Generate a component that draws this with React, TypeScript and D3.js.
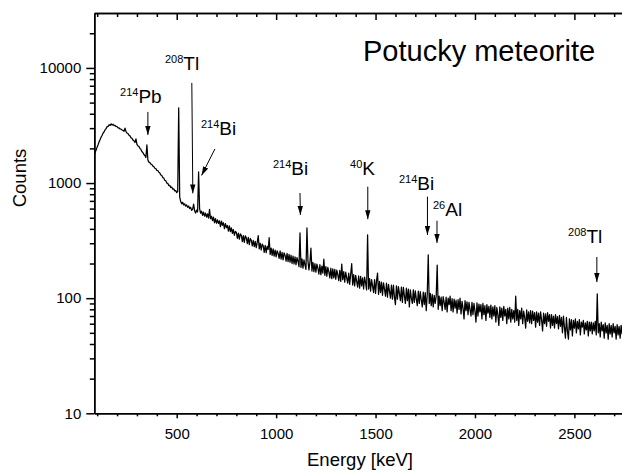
import React, { useEffect, useRef } from 'react';
import * as d3 from 'd3';

// spectrum: counts per 5 keV step, starting at 85 keV
const energyStart = 85;
const energyStep = 5;
const counts = [
  1750, 1860, 1940, 2060, 2160, 2290, 2390, 2510, 2600, 2720, 2790, 2910, 2970, 3090, 3110, 3210, 3170, 3270, 3190, 3240,
  3160, 3170, 3100, 3090, 3020, 3010, 2950, 2940, 2890, 2870, 2820, 3000, 2800, 2720, 2690, 2600, 2570, 2470, 2450, 2360,
  2330, 2250, 2420, 2170, 2100, 2080, 2000, 1960, 1880, 1840, 1770, 1735, 1665, 2150, 1585, 1520, 1505, 1462, 1448, 1402,
  1390, 1345, 1335, 1290, 1285, 1240, 1225, 1175, 1165, 1115, 1105, 1055, 1050, 1000, 995, 950, 955, 915, 925, 885,
  890, 855, 860, 826, 845, 4500, 760, 690, 660, 680, 645, 660, 630, 645, 615, 632, 600, 615, 580, 592,
  655, 575, 548, 582, 560, 1250, 600, 548, 570, 525, 560, 515, 548, 505, 540, 495, 590, 490, 515, 472,
  505, 452, 490, 448, 478, 446, 470, 418, 468, 430, 452, 402, 445, 410, 428, 382, 425, 378, 408, 365,
  395, 352, 380, 372, 330, 368, 325, 362, 352, 310, 350, 305, 348, 335, 298, 338, 292, 330, 318, 285,
  318, 280, 312, 275, 305, 350, 268, 300, 262, 295, 285, 250, 288, 248, 282, 265, 335, 240, 272, 235,
  268, 232, 262, 228, 258, 245, 222, 258, 218, 250, 215, 248, 235, 210, 245, 208, 240, 205, 236, 200,
  232, 198, 228, 195, 225, 210, 188, 369, 185, 220, 182, 215, 195, 178, 407, 210, 176, 205, 272, 172,
  205, 170, 200, 168, 198, 182, 162, 196, 160, 190, 165, 218, 158, 188, 155, 185, 170, 150, 182, 148,
  180, 150, 178, 146, 175, 160, 142, 174, 140, 198, 145, 170, 138, 168, 150, 135, 165, 132, 162, 200,
  130, 160, 128, 158, 140, 125, 156, 122, 155, 128, 150, 120, 152, 135, 118, 355, 120, 148, 115, 145,
  128, 112, 145, 110, 142, 165, 108, 140, 112, 138, 106, 136, 120, 104, 135, 102, 132, 115, 100, 130,
  98, 130, 102, 88, 128, 98, 126, 110, 95, 125, 92, 124, 105, 90, 122, 95, 120, 84, 118, 100,
  90, 118, 92, 116, 98, 86, 115, 90, 114, 96, 84, 113, 88, 112, 78, 108, 238, 90, 110, 86,
  108, 84, 106, 90, 104, 194, 80, 104, 86, 102, 78, 103, 92, 80, 102, 76, 100, 88, 104, 78,
  99, 76, 98, 82, 96, 74, 97, 80, 100, 73, 94, 82, 66, 95, 78, 93, 72, 92, 80, 70,
  92, 72, 90, 77, 62, 91, 70, 89, 76, 88, 66, 90, 72, 86, 64, 88, 74, 85, 68, 87,
  66, 84, 70, 86, 62, 83, 72, 58, 84, 68, 82, 64, 85, 70, 80, 60, 82, 66, 83, 62,
  80, 66, 78, 62, 104, 64, 80, 58, 78, 66, 82, 60, 77, 68, 55, 79, 63, 76, 61, 78,
  60, 77, 64, 75, 56, 76, 62, 74, 58, 76, 65, 52, 74, 60, 73, 57, 75, 63, 72, 55,
  72, 58, 70, 55, 72, 60, 69, 54, 71, 57, 68, 50, 70, 56, 45, 68, 52, 44, 66, 53,
  65, 47, 64, 55, 66, 50, 63, 54, 65, 48, 62, 56, 64, 49, 61, 53, 63, 47, 62, 52,
  62, 49, 61, 52, 63, 48, 109, 50, 60, 46, 62, 52, 59, 45, 61, 50, 58, 44, 60, 49,
  58, 46, 60, 50, 57, 44, 59, 48, 57, 45, 58, 49, 55,
];

const yMajorTicks = [10, 100, 1000, 10000];
const yMinorTicks = [20, 30, 40, 50, 60, 70, 80, 90, 200, 300, 400, 500, 600, 700, 800, 900,
  2000, 3000, 4000, 5000, 6000, 7000, 8000, 9000, 20000];
const xMajorTicks = [500, 1000, 1500, 2000, 2500];
const xMinorTicks = [100, 200, 300, 400, 600, 700, 800, 900, 1100, 1200, 1300, 1400, 1600, 1700,
  1800, 1900, 2100, 2200, 2300, 2400, 2600, 2700, 2800];

// peak labels (energy/counts of label start) and their arrows
const peaks = [
  { mass: '214', el: 'Pb', labelE: 215, labelC: 4970, fromE: 355, fromC: 4150, toE: 355, toC: 2620 },
  { mass: '208', el: 'Tl', labelE: 441, labelC: 9610, fromE: 576, fromC: 7410, toE: 581, toC: 813 },
  { mass: '214', el: 'Bi', labelE: 622, labelC: 2618, fromE: 692, fromC: 1978, toE: 625, toC: 1164 },
  { mass: '214', el: 'Bi', labelE: 984, labelC: 1175, fromE: 1120, fromC: 820, toE: 1122, toC: 528 },
  { mass: '40', el: 'K', labelE: 1372, labelC: 1175, fromE: 1461, fromC: 930, toE: 1461, toC: 485 },
  { mass: '214', el: 'Bi', labelE: 1618, labelC: 871, fromE: 1761, fromC: 762, toE: 1761, toC: 354 },
  { mass: '26', el: 'Al', labelE: 1789, labelC: 518, fromE: 1809, fromC: 471, toE: 1809, toC: 302 },
  { mass: '208', el: 'Tl', labelE: 2468, labelC: 302, fromE: 2613, fromC: 228, toE: 2613, toC: 138 },
];

const width = 622;
const height = 472;
const left = 94.3;
const top = 13;
const bottom = 413.3;
const font = "'Liberation Sans', Arial, sans-serif";

const x = d3.scaleLinear().domain([85.5, 2830]).range([left, 640]);
const y = d3.scaleLog().domain([10, 30000]).range([bottom, top]);

const App = () => {
  const axesRef = useRef<SVGGElement>(null);

  useEffect(() => {
    const g = d3.select(axesRef.current);
    g.selectAll('*').remove();

    const style = (sel: any) => {
      sel.attr('font-family', font).attr('font-size', 15).attr('color', '#000');
      sel.selectAll('path, line').attr('stroke-width', 1.5);
    };

    g.append('g')
      .attr('transform', `translate(${left},0)`)
      .call(d3.axisLeft(y).tickValues(yMinorTicks).tickSize(4.5).tickFormat(() => '').tickSizeOuter(0))
      .call(style);
    g.append('g')
      .attr('transform', `translate(${left},0)`)
      .call(d3.axisLeft(y).tickValues(yMajorTicks).tickSize(8).tickPadding(5)
        .tickFormat(d3.format('d') as any).tickSizeOuter(0))
      .call(style);

    g.append('g')
      .attr('transform', `translate(0,${bottom})`)
      .call(d3.axisBottom(x).tickValues(xMinorTicks).tickSize(3).tickFormat(() => '').tickSizeOuter(0))
      .call(style);
    g.append('g')
      .attr('transform', `translate(0,${bottom})`)
      .call(d3.axisBottom(x).tickValues(xMajorTicks).tickSize(5).tickPadding(10)
        .tickFormat(d3.format('d') as any).tickSizeOuter(0))
      .call(style);

    g.append('g')
      .attr('transform', `translate(0,${top})`)
      .call(d3.axisTop(x).tickValues(xMinorTicks).tickSize(-4).tickFormat(() => '').tickSizeOuter(0))
      .call(style);
    g.append('g')
      .attr('transform', `translate(0,${top})`)
      .call(d3.axisTop(x).tickValues(xMajorTicks).tickSize(-7).tickFormat(() => '').tickSizeOuter(0))
      .call(style);
  }, []);

  const line = d3.line<number>()
    .x((d, i) => x(energyStart + i * energyStep))
    .y(d => y(d));

  return (
    <div style={{ position: 'absolute', left: 0, top: 0 }}>
      <svg width={width} height={height} style={{ display: 'block', background: '#fff' }}>
        <defs>
          <clipPath id="plot">
            <rect x={left} y={top} width={640 - left} height={bottom - top} />
          </clipPath>
          <marker id="head" viewBox="0 0 10 6" refX={10} refY={3} markerWidth={9} markerHeight={5.6}
            markerUnits="userSpaceOnUse" orient="auto">
            <path d="M0,0 L10,3 L0,6 Z" fill="#000" />
          </marker>
        </defs>

        <path d={line(counts) || ''} fill="none" stroke="#000" strokeWidth={1.25}
          clipPath="url(#plot)" strokeLinejoin="round" />

        <g ref={axesRef} />

        {peaks.map((p, i) => (
          <g key={i}>
            <line x1={x(p.fromE)} y1={y(p.fromC)} x2={x(p.toE)} y2={y(p.toC)}
              stroke="#000" strokeWidth={1} markerEnd="url(#head)" />
            <text x={x(p.labelE)} y={y(p.labelC)} fontFamily={font} fill="#000">
              <tspan fontSize={11} dy={-6.5}>{p.mass}</tspan>
              <tspan fontSize={19} dy={6.5}>{p.el}</tspan>
            </text>
          </g>
        ))}

        <text x={363} y={61} fontFamily={font} fontSize={29} fill="#000">Potucky meteorite</text>
        <text x={360} y={466} fontFamily={font} fontSize={18.5} textAnchor="middle" fill="#000">
          Energy [keV]
        </text>
        <text transform="translate(26,178) rotate(-90)" fontFamily={font} fontSize={18.5}
          textAnchor="middle" fill="#000">
          Counts
        </text>
      </svg>
    </div>
  );
};

export default App;
